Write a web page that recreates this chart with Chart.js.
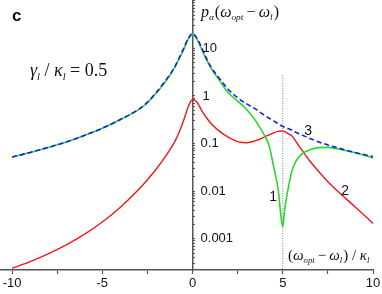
<!DOCTYPE html>
<html>
<head>
<meta charset="utf-8">
<script src="https://cdn.jsdelivr.net/npm/chart.js@4.4.0/dist/chart.umd.min.js"></script>
<style>
  html, body { margin: 0; padding: 0; background: #fff; }
  #wrap { width: 382px; height: 294px; position: relative; }
</style>
</head>
<body>
<div id="wrap"><canvas id="chart"></canvas></div>
<script>
// detuning (omega_opt - omega_l) / kappa_l
const xs = [-10, -9, -8, -7, -6, -5, -4, -3, -2.5, -2, -1.5, -1, -0.75, -0.5, -0.25, 0,
            0.25, 0.5, 0.75, 1, 1.5, 2, 2.5, 3, 3.5, 4, 4.25, 4.5, 4.75, 4.9, 5, 5.1,
            5.25, 5.5, 5.75, 6, 6.5, 7, 7.5, 8, 9, 10];

// curve 1 (green)
const curve1 = [0.052, 0.065, 0.083, 0.108, 0.148, 0.21, 0.32, 0.51, 0.72, 1.15, 2.0, 3.9, 6.0, 9.3, 15.3, 19.7,
                15.5, 9.7, 6.0, 4.0, 2.1, 1.15, 0.78, 0.52, 0.3, 0.145, 0.088, 0.032, 0.0105, 0.003, 0.0018, 0.004,
                0.009, 0.026, 0.044, 0.058, 0.074, 0.082, 0.083, 0.078, 0.064, 0.05];

// curve 2 (red)
const curve2 = [0.00024, 0.00033, 0.00048, 0.00074, 0.00123, 0.00224, 0.0046, 0.0107, 0.0174, 0.0295, 0.054, 0.107, 0.17, 0.3, 0.58, 0.84,
                0.74, 0.5, 0.36, 0.27, 0.18, 0.135, 0.11, 0.104, 0.115, 0.138, 0.152, 0.168, 0.18, 0.184, 0.183, 0.178,
                0.166, 0.145, 0.108, 0.078, 0.043, 0.0255, 0.0158, 0.0103, 0.0047, 0.0021];

// curve 3 (blue dashed)
const curve3 = [0.052, 0.065, 0.083, 0.108, 0.148, 0.21, 0.32, 0.52, 0.74, 1.2, 2.1, 4.0, 6.2, 9.8, 16, 20.5,
                16.3, 10.4, 6.4, 4.2, 2.3, 1.35, 0.92, 0.68, 0.53, 0.39, 0.34, 0.3, 0.26, 0.24, 0.23, 0.22,
                0.21, 0.19, 0.17, 0.155, 0.128, 0.108, 0.093, 0.082, 0.065, 0.053];

const xTicks = [-10, -5, 0, 5, 10];
const yTicks = [0.001, 0.01, 0.1, 1, 10];
const yTickText = ['0.001', '0.01', '0.1', '1', '10'];

const markerX = 5;
const markerY = [2.7, 0.00022];

const curveLabels = [
  { text: '1', x: 4.46, y: 0.0075 },
  { text: '2', x: 8.45, y: 0.0102 },
  { text: '3', x: 6.4, y: 0.183 }
];

const toPoints = arr => xs.map((x, i) => ({ x: x, y: arr[i] }));

const serif = '"Liberation Serif", "Times New Roman", serif';
const sans = '"Liberation Sans", Arial, sans-serif';

function drawRich(ctx, x, y, parts, size) {
  parts.forEach(p => {
    const fs = p.sub ? size * 0.58 : size;
    ctx.font = (p.it ? 'italic ' : '') + fs + 'px ' + serif;
    ctx.fillText(p.t, x, y + (p.sub ? size * 0.2 : 0));
    x += ctx.measureText(p.t).width + (p.gap || 0);
  });
}

const overlay = {
  id: 'overlay',
  afterDraw(chart) {
    const ctx = chart.ctx;
    const sx = chart.scales.x, sy = chart.scales.y;
    ctx.save();
    ctx.fillStyle = '#111';
    ctx.textBaseline = 'middle';
    ctx.textAlign = 'left';
    ctx.font = '13px ' + sans;
    const x0 = sx.getPixelForValue(0);
    yTicks.forEach((v, i) => ctx.fillText(yTickText[i], x0 + (v >= 1 ? 10 : 8), sy.getPixelForValue(v)));

    ctx.textAlign = 'center';
    ctx.font = '14px ' + sans;
    curveLabels.forEach(l => ctx.fillText(l.text, sx.getPixelForValue(l.x), sy.getPixelForValue(l.y)));

    ctx.textAlign = 'left';
    ctx.textBaseline = 'alphabetic';
    ctx.font = 'bold 17px ' + sans;
    ctx.fillText('c', 12, 21);

    drawRich(ctx, 30, 76, [
      { t: 'γ', it: 1 }, { t: 'l', it: 1, sub: 1 }, { t: ' / ' }, { t: 'κ', it: 1 }, { t: 'l', it: 1, sub: 1 },
      { t: ' = 0.5' }
    ], 18);

    drawRich(ctx, 201, 17, [
      { t: 'p', it: 1 }, { t: 'α', it: 1, sub: 1, gap: 1 }, { t: '(' }, { t: 'ω', it: 1 }, { t: 'opt', it: 1, sub: 1 },
      { t: '\u2009−\u2009' }, { t: 'ω', it: 1 }, { t: 'l', it: 1, sub: 1, gap: 1 }, { t: ')' }
    ], 16);

    drawRich(ctx, 288, 260, [
      { t: '(' }, { t: 'ω', it: 1 }, { t: 'opt', it: 1, sub: 1 }, { t: '\u2009−\u2009' }, { t: 'ω', it: 1 },
      { t: 'l', it: 1, sub: 1, gap: 1 }, { t: ')' }, { t: ' / ' }, { t: 'κ', it: 1 }, { t: 'l', it: 1, sub: 1 }
    ], 15);
    ctx.restore();
  }
};

const ctx = document.getElementById('chart').getContext('2d');
new Chart(ctx, {
  type: 'line',
  data: {
    datasets: [
      {
        label: '3',
        data: toPoints(curve3),
        borderColor: '#1020f0',
        borderWidth: 1.6,
        borderDash: [5, 3],
        pointRadius: 0,
        cubicInterpolationMode: 'monotone'
      },
      {
        label: '1',
        data: toPoints(curve1),
        borderColor: '#2ad82a',
        borderWidth: 1.6,
        pointRadius: 0,
        cubicInterpolationMode: 'monotone'
      },
      {
        label: '2',
        data: toPoints(curve2),
        borderColor: '#f01818',
        borderWidth: 1.4,
        pointRadius: 0,
        cubicInterpolationMode: 'monotone'
      },
      {
        label: 'marker',
        data: markerY.map(y => ({ x: markerX, y: y })),
        borderColor: '#777',
        borderWidth: 1,
        borderDash: [1, 1.5],
        pointRadius: 0
      }
    ]
  },
  options: {
    responsive: true,
    maintainAspectRatio: false,
    animation: false,
    layout: { padding: { left: 0, right: 9, top: 0, bottom: 0 } },
    plugins: { legend: { display: false }, tooltip: { enabled: false } },
    scales: {
      x: {
        type: 'linear',
        min: -10.67,
        max: 10,
        afterBuildTicks: s => {
          const t = [];
          for (let i = 0; i < xTicks.length; i++) {
            t.push({ value: xTicks[i] });
            if (i < xTicks.length - 1) t.push({ value: (xTicks[i] + xTicks[i + 1]) / 2 });
          }
          s.ticks = t;
        },
        afterFit: s => { s.height = 24; s.paddingLeft = 0; s.paddingRight = 0; },
        border: { color: '#555', width: 1.5 },
        grid: { drawOnChartArea: false, tickLength: 4, tickColor: '#555', tickWidth: 1.2 },
        ticks: {
          padding: 2,
          maxRotation: 0,
          autoSkip: false,
          color: '#111',
          font: { family: sans, size: 13 },
          callback: v => (xTicks.includes(v) ? String(v) : '')
        }
      },
      y: {
        type: 'logarithmic',
        position: { x: 0 },
        min: 0.00022,
        max: 104,
        afterBuildTicks: s => {
          const t = [];
          for (let e = -4; e <= 2; e++) {
            for (let m = 1; m <= 9; m++) {
              const v = m * Math.pow(10, e);
              if (v >= s.min && v <= s.max) t.push({ value: v });
            }
          }
          s.ticks = t;
        },
        border: { color: '#555', width: 1.5 },
        grid: { drawOnChartArea: false, tickLength: -3, tickColor: '#555', tickWidth: 1 },
        ticks: { display: false }
      }
    }
  },
  plugins: [overlay]
});
</script>
</body>
</html>
